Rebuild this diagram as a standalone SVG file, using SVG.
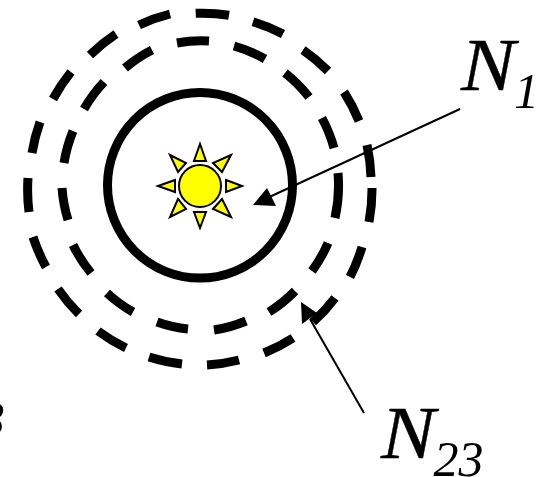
<svg xmlns="http://www.w3.org/2000/svg" width="542" height="477" viewBox="0 0 542 477">
<style>
.ring{fill:none;stroke:#000;stroke-width:9}
.ray{fill:#ff0;stroke:#000;stroke-width:2;stroke-linejoin:miter}
.lead{fill:none;stroke:#000;stroke-width:2}
.head{fill:#000}
.big{font-family:"Liberation Serif","Times New Roman",serif;font-style:italic;font-size:74px;fill:#000;stroke:#000;stroke-width:.4}
.sub{font-family:"Liberation Serif","Times New Roman",serif;font-style:italic;font-size:50px;fill:#000}
</style>
<rect width="542" height="477" fill="#fff"/>
<g id="orbit-outer"><path class="ring" d="M195.7 13.3A171.5 175 0 0 1 229 15.3M253 21.7A171.5 175 0 0 1 283 34M303 50A171.5 175 0 0 1 328 71M344 92A171.5 175 0 0 1 359 121M367 145A171.5 175 0 0 1 371 177M372 188A171.5 175 0 0 1 369 222M362 247A171.5 175 0 0 1 350 277M335 298A171.5 175 0 0 1 313 322M293 338A171.5 175 0 0 1 264 353M239 360A171.5 175 0 0 1 207 365M182 364A171.5 175 0 0 1 149 357M126 348A171.5 175 0 0 1 98 331M79 314A171.5 175 0 0 1 58 289M46 267A171.5 175 0 0 1 33 237M29 212A171.5 175 0 0 1 28 178M32 153A171.5 175 0 0 1 40 122M53 99A171.5 175 0 0 1 71 72M90 55A171.5 175 0 0 1 116 34M139 25A171.5 175 0 0 1 170 14"/></g>
<g id="orbit-middle"><path class="ring" d="M177 43A138 143 0 0 1 209 41M234 46A138 143 0 0 1 265 59M285 73A138 143 0 0 1 309 97M322 118A138 143 0 0 1 334 148M338 173A138 143 0 0 1 335 218M328 243A138 143 0 0 1 312 271M295 291A138 143 0 0 1 269 312M246 321A138 143 0 0 1 214 330M188 329A138 143 0 0 1 157 322M133 312A138 143 0 0 1 107 293M91 273A138 143 0 0 1 73 245M68 220A138 143 0 0 1 62 188M64 163A138 143 0 0 1 73 131M84 109A138 143 0 0 1 104 82M125 68A138 143 0 0 1 152 50"/></g>
<g id="orbit-inner"><ellipse cx="200" cy="185.3" rx="92.5" ry="92.8" class="ring"/></g>
<g id="sun">
<polygon class="ray" points="200,144 194,161 206,161"/>
<polygon class="ray" points="242,186 226,180 226,192"/>
<polygon class="ray" points="200,228 194,212 206,212"/>
<polygon class="ray" points="158,186 175,180 175,192"/>
<polygon class="ray" points="170,155 186,163 178,172"/>
<polygon class="ray" points="231,155 213,163 222,172"/>
<polygon class="ray" points="231,217 213,209 222,199"/>
<polygon class="ray" points="170,217 186,209 178,199"/>
<circle cx="200" cy="186" r="21" fill="#ff0" stroke="#000" stroke-width="2"/>
</g>
<g id="connectors">
<line class="lead" x1="460" y1="109" x2="265" y2="199"/>
<polygon class="head" points="253,205 267,188 276,206"/>
<line class="lead" x1="364" y1="413" x2="310" y2="319"/>
<polygon class="head" points="301,302 302,324 317,313"/>
</g>
<g id="label-n1"><text class="big" transform="translate(461 89.5) scale(1.1 1)">N</text><text class="sub" x="514" y="108">1</text></g>
<g id="label-n23"><text class="big" transform="translate(381 458) scale(1.1 1)">N</text><text class="sub" x="433.5" y="476">23</text></g>
<g id="label-edge"><text class="sub" x="-20" y="436">3</text></g>
</svg>
